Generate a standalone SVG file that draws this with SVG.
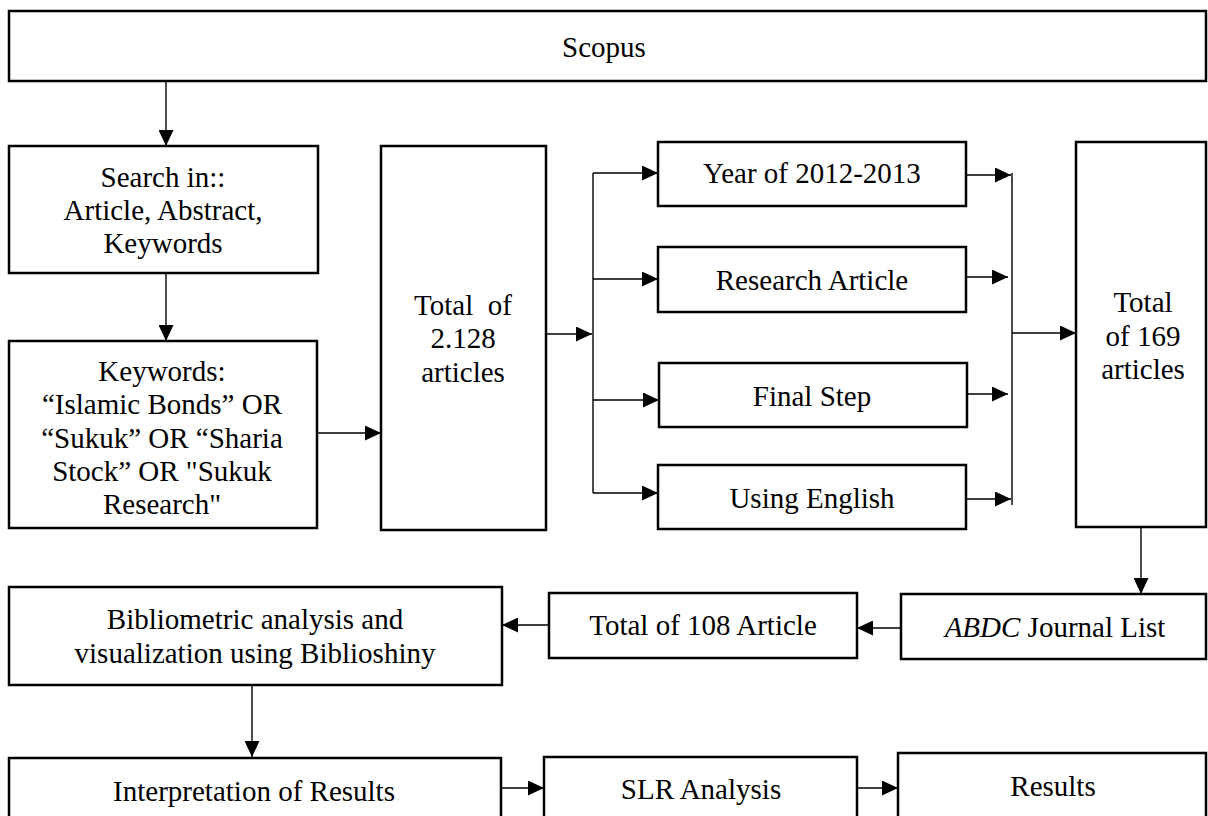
<svg xmlns="http://www.w3.org/2000/svg" width="1208" height="816" viewBox="0 0 1208 816">
<style>
.box{fill:#fff;stroke:#000;stroke-width:2.5}
.t{font-family:"Liberation Serif","Times New Roman",serif;font-size:29px;fill:#000;text-anchor:middle}
.c{stroke:#000;stroke-width:1.4;fill:none;marker-end:url(#ah)}
.l{stroke:#000;stroke-width:1.4;fill:none}
</style>
<defs>
<marker id="ah" markerUnits="userSpaceOnUse" markerWidth="16" markerHeight="15" refX="16" refY="7.5" orient="auto">
<path d="M0,0 L16,7.5 L0,15 z" fill="#000"/>
</marker>
</defs>
<rect width="1208" height="816" fill="#fff"/>
<g id="connectors">
<line class="c" x1="166" y1="81" x2="166" y2="146"/>
<line class="c" x1="166" y1="273" x2="166" y2="341"/>
<line class="c" x1="317" y1="433" x2="381" y2="433"/>
<line class="c" x1="546" y1="334" x2="592" y2="334"/>
<line class="l" x1="593" y1="173" x2="593" y2="493"/>
<line class="c" x1="593" y1="173" x2="658" y2="173"/>
<line class="c" x1="593" y1="279" x2="658" y2="279"/>
<line class="c" x1="593" y1="400" x2="659" y2="400"/>
<line class="c" x1="593" y1="493" x2="658" y2="493"/>
<line class="c" x1="966" y1="175" x2="1011" y2="175"/>
<line class="c" x1="963" y1="277" x2="1008" y2="277"/>
<line class="c" x1="964" y1="394" x2="1008" y2="394"/>
<line class="c" x1="966" y1="499" x2="1011" y2="499"/>
<line class="l" x1="1012" y1="173" x2="1012" y2="505"/>
<line class="c" x1="1012" y1="333" x2="1076" y2="333"/>
<line class="c" x1="1141" y1="527" x2="1141" y2="594"/>
<line class="c" x1="901" y1="628" x2="857" y2="628"/>
<line class="c" x1="549" y1="625" x2="502" y2="625"/>
<line class="c" x1="252" y1="685" x2="252" y2="757"/>
<line class="c" x1="501" y1="788" x2="544" y2="788"/>
<line class="c" x1="855" y1="788" x2="898" y2="788"/>
</g>
<g id="scopus"><rect class="box" x="9" y="11" width="1197" height="70"/><text class="t" x="604" y="57">Scopus</text></g>
<g id="search"><rect class="box" x="9" y="146" width="309" height="127"/><text class="t" x="163" y="187">Search in::</text><text class="t" x="163" y="220">Article, Abstract,</text><text class="t" x="163" y="253">Keywords</text></g>
<g id="keywords"><rect class="box" x="9" y="341" width="308" height="187"/><text class="t" x="162" y="381">Keywords:</text><text class="t" x="162" y="414">“Islamic Bonds” OR</text><text class="t" x="162" y="448">“Sukuk” OR “Sharia</text><text class="t" x="162" y="481">Stock” OR "Sukuk</text><text class="t" x="162" y="514">Research"</text></g>
<g id="total2128"><rect class="box" x="381" y="146" width="165" height="384"/><text class="t" x="463" y="315" xml:space="preserve">Total  of</text><text class="t" x="463" y="348">2.128</text><text class="t" x="463" y="382">articles</text></g>
<g id="year"><rect class="box" x="658" y="142" width="308" height="64"/><text class="t" x="812" y="183">Year of 2012-2013</text></g>
<g id="research"><rect class="box" x="658" y="247" width="308" height="65"/><text class="t" x="812" y="290">Research Article</text></g>
<g id="final"><rect class="box" x="659" y="363" width="308" height="64"/><text class="t" x="812" y="406">Final Step</text></g>
<g id="english"><rect class="box" x="658" y="465" width="308" height="64"/><text class="t" x="812" y="508">Using English</text></g>
<g id="total169"><rect class="box" x="1076" y="142" width="130" height="385"/><text class="t" x="1143" y="312">Total</text><text class="t" x="1143" y="346">of 169</text><text class="t" x="1143" y="379">articles</text></g>
<g id="abdc"><rect class="box" x="901" y="594" width="305" height="65"/><text class="t" x="1055" y="637"><tspan font-style="italic">ABDC</tspan> Journal List</text></g>
<g id="total108"><rect class="box" x="549" y="593" width="308" height="65"/><text class="t" x="703" y="635">Total of 108 Article</text></g>
<g id="biblio"><rect class="box" x="9" y="587" width="493" height="98"/><text class="t" x="255" y="629">Bibliometric analysis and</text><text class="t" x="255" y="663">visualization using Biblioshiny</text></g>
<g id="interp"><rect class="box" x="9" y="758" width="492" height="60"/><text class="t" x="254" y="801">Interpretation of Results</text></g>
<g id="slr"><rect class="box" x="544" y="757" width="313" height="61"/><text class="t" x="701" y="799">SLR Analysis</text></g>
<g id="results"><rect class="box" x="898" y="753" width="308" height="65"/><text class="t" x="1053" y="796">Results</text></g>
</svg>
